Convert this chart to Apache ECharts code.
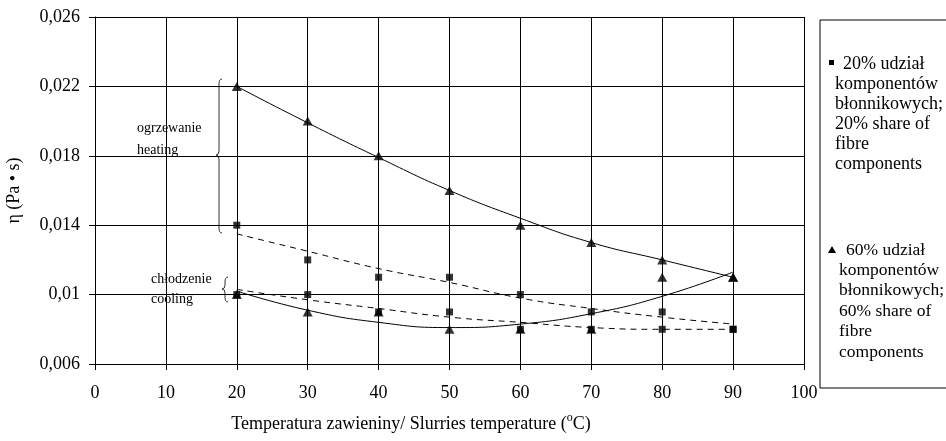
<!DOCTYPE html>
<html>
<head>
<meta charset="utf-8">
<script src="https://cdn.jsdelivr.net/npm/echarts@6/dist/echarts.min.js"></script>
<style>
  html, body { margin: 0; padding: 0; background: #fff; }
  #main { width: 946px; height: 441px; }
</style>
</head>
<body>
<div id="main"></div>
<script>
// temperatury pomiaru
var temps = [20, 30, 40, 50, 60, 70, 80, 90];

// 20% komponentow - punkty (kwadraty)
var heat20 = [0.014, 0.012, 0.011, 0.011, 0.010, 0.009, 0.009, 0.008];
var cool20 = [0.010, 0.010, 0.009, 0.009, 0.008, 0.008, 0.008, 0.008];
// 60% komponentow - punkty (trojkaty)
var heat60 = [0.022, 0.020, 0.018, 0.016, 0.014, 0.013, 0.012, 0.011];
var cool60 = [0.010, 0.009, 0.009, 0.008, 0.008, 0.008, 0.011, 0.011];

// linie trendu
var heat20Trend = [0.0135, 0.0125, 0.0115, 0.0107, 0.0098, 0.0092, 0.0087, 0.0083];
var cool20Trend = [0.0103, 0.0097, 0.0092, 0.0087, 0.0084, 0.0081, 0.0080, 0.0080];
var heat60Trend = [0.0220, 0.0199, 0.0179, 0.0160, 0.0144, 0.0130, 0.0120, 0.0110];
var cool60Trend = [0.0102, 0.0091, 0.0084, 0.0081, 0.0083, 0.0089, 0.0099, 0.0113];

var legend20 = ['20% udział', 'komponentów', 'błonnikowych;', '20% share of', 'fibre', 'components'];
var legend60 = ['60% udział', 'komponentów', 'błonnikowych;', '60% share of', 'fibre', 'components'];

var serif = '"Liberation Serif", "Times New Roman", serif';

function pairs(ys) {
  var out = [];
  for (var i = 0; i < temps.length; i++) {
    out.push([temps[i], ys[i]]);
  }
  return out;
}

function trendLine(name, ys, dashed) {
  return {
    name: name,
    type: 'line',
    data: pairs(ys),
    smooth: true,
    symbol: 'none',
    silent: true,
    z: 2,
    lineStyle: { color: '#000', width: 1, type: dashed ? [6, 5] : 'solid' }
  };
}

function points(name, ys, symbol, size) {
  return {
    name: name,
    type: 'scatter',
    data: pairs(ys),
    symbol: symbol,
    symbolSize: size,
    z: 5,
    itemStyle: { color: '#000' }
  };
}

// klamra "{" : x - kolumna, y1/y2 - gora/dol, ym - szpic
function brace(x, y1, ym, y2) {
  var st = { fill: 'none', stroke: '#333', lineWidth: 1 };
  return [
    { type: 'bezierCurve', shape: { x1: x + 3, y1: y1, cpx1: x, cpy1: y1, x2: x, y2: y1 + 5 }, style: st },
    { type: 'line', shape: { x1: x, y1: y1 + 5, x2: x, y2: ym - 4 }, style: st },
    { type: 'bezierCurve', shape: { x1: x, y1: ym - 4, cpx1: x, cpy1: ym, x2: x - 3, y2: ym }, style: st },
    { type: 'bezierCurve', shape: { x1: x - 3, y1: ym, cpx1: x, cpy1: ym, x2: x, y2: ym + 4 }, style: st },
    { type: 'line', shape: { x1: x, y1: ym + 4, x2: x, y2: y2 - 5 }, style: st },
    { type: 'bezierCurve', shape: { x1: x, y1: y2 - 5, cpx1: x, cpy1: y2, x2: x + 3, y2: y2 }, style: st }
  ];
}

var myChart = echarts.init(document.getElementById('main'));

var graphics = [
  // legenda
  { type: 'rect', shape: { x: 820, y: 20, width: 140, height: 368 }, style: { fill: 'none', stroke: '#000', lineWidth: 1 } },
  { type: 'rect', shape: { x: 829, y: 60, width: 5, height: 5 }, style: { fill: '#000' } },
  { type: 'text', x: 843, y: 64, style: { text: legend20[0], font: '18px ' + serif, fill: '#000', verticalAlign: 'middle' } },
  { type: 'text', x: 835, y: 74, style: { text: legend20.slice(1).join('\n'), font: '18px ' + serif, fill: '#000', lineHeight: 20, verticalAlign: 'top' } },
  { type: 'polygon', shape: { points: [[832, 246], [836, 253], [828, 253]] }, style: { fill: '#000' } },
  { type: 'text', x: 846, y: 250, style: { text: legend60[0], font: '17.5px ' + serif, fill: '#000', verticalAlign: 'middle' } },
  { type: 'text', x: 839, y: 260, style: { text: legend60.slice(1).join('\n'), font: '17.5px ' + serif, fill: '#000', lineHeight: 20.5, verticalAlign: 'top' } },
  // opisy ogrzewanie / chlodzenie
  { type: 'text', x: 137, y: 128, style: { text: 'ogrzewanie', font: '14px ' + serif, fill: '#000', verticalAlign: 'middle' } },
  { type: 'text', x: 137, y: 150, style: { text: 'heating', font: '14px ' + serif, fill: '#000', verticalAlign: 'middle' } },
  { type: 'text', x: 151, y: 279, style: { text: 'chłodzenie', font: '14px ' + serif, fill: '#000', verticalAlign: 'middle' } },
  { type: 'text', x: 151, y: 299, style: { text: 'cooling', font: '14px ' + serif, fill: '#000', verticalAlign: 'middle' } }
].concat(brace(219, 79, 155, 233), brace(225, 277, 289, 302));

var option = {
  animation: false,
  backgroundColor: '#fff',
  grid: { left: 95, right: 142, top: 17, bottom: 77, outerBoundsMode: 'none' },
  xAxis: {
    type: 'value',
    min: 0,
    max: 100,
    interval: 10,
    name: 'Temperatura zawieniny/ Slurries temperature ({sup|o}C)',
    nameLocation: 'middle',
    nameGap: 48,
    nameTextStyle: {
      color: '#000',
      fontFamily: serif,
      fontSize: 18,
      lineHeight: 24,
      padding: [0, 77, 0, 0],
      rich: {
        sup: { fontSize: 12, fontFamily: serif, color: '#000', verticalAlign: 'top' }
      }
    },
    axisLine: { lineStyle: { color: '#000', width: 1 } },
    axisTick: { show: true, length: 6, lineStyle: { color: '#000' } },
    axisLabel: { color: '#000', fontFamily: serif, fontSize: 18, margin: 20 },
    splitLine: { show: true, lineStyle: { color: '#000', width: 1 } }
  },
  yAxis: {
    type: 'value',
    min: 0.006,
    max: 0.026,
    interval: 0.004,
    name: 'η (Pa • s)',
    nameLocation: 'middle',
    nameGap: 72,
    nameTextStyle: { color: '#000', fontFamily: serif, fontSize: 18 },
    axisLine: { show: true, lineStyle: { color: '#000', width: 1 } },
    axisTick: { show: true, length: 6, lineStyle: { color: '#000' } },
    axisLabel: {
      color: '#000',
      fontFamily: serif,
      fontSize: 18,
      margin: 15,
      formatter: function (v) {
        return String(Number(v.toFixed(3))).replace('.', ',');
      }
    },
    splitLine: { show: true, lineStyle: { color: '#000', width: 1 } }
  },
  graphic: graphics,
  series: [
    trendLine('heat20Trend', heat20Trend, true),
    trendLine('cool20Trend', cool20Trend, true),
    trendLine('heat60Trend', heat60Trend, false),
    trendLine('cool60Trend', cool60Trend, false),
    points('heat20', heat20, 'rect', 7),
    points('cool20', cool20, 'rect', 7),
    points('heat60', heat60, 'triangle', [10, 9]),
    points('cool60', cool60, 'triangle', [10, 9])
  ]
};

myChart.setOption(option);
</script>
</body>
</html>
